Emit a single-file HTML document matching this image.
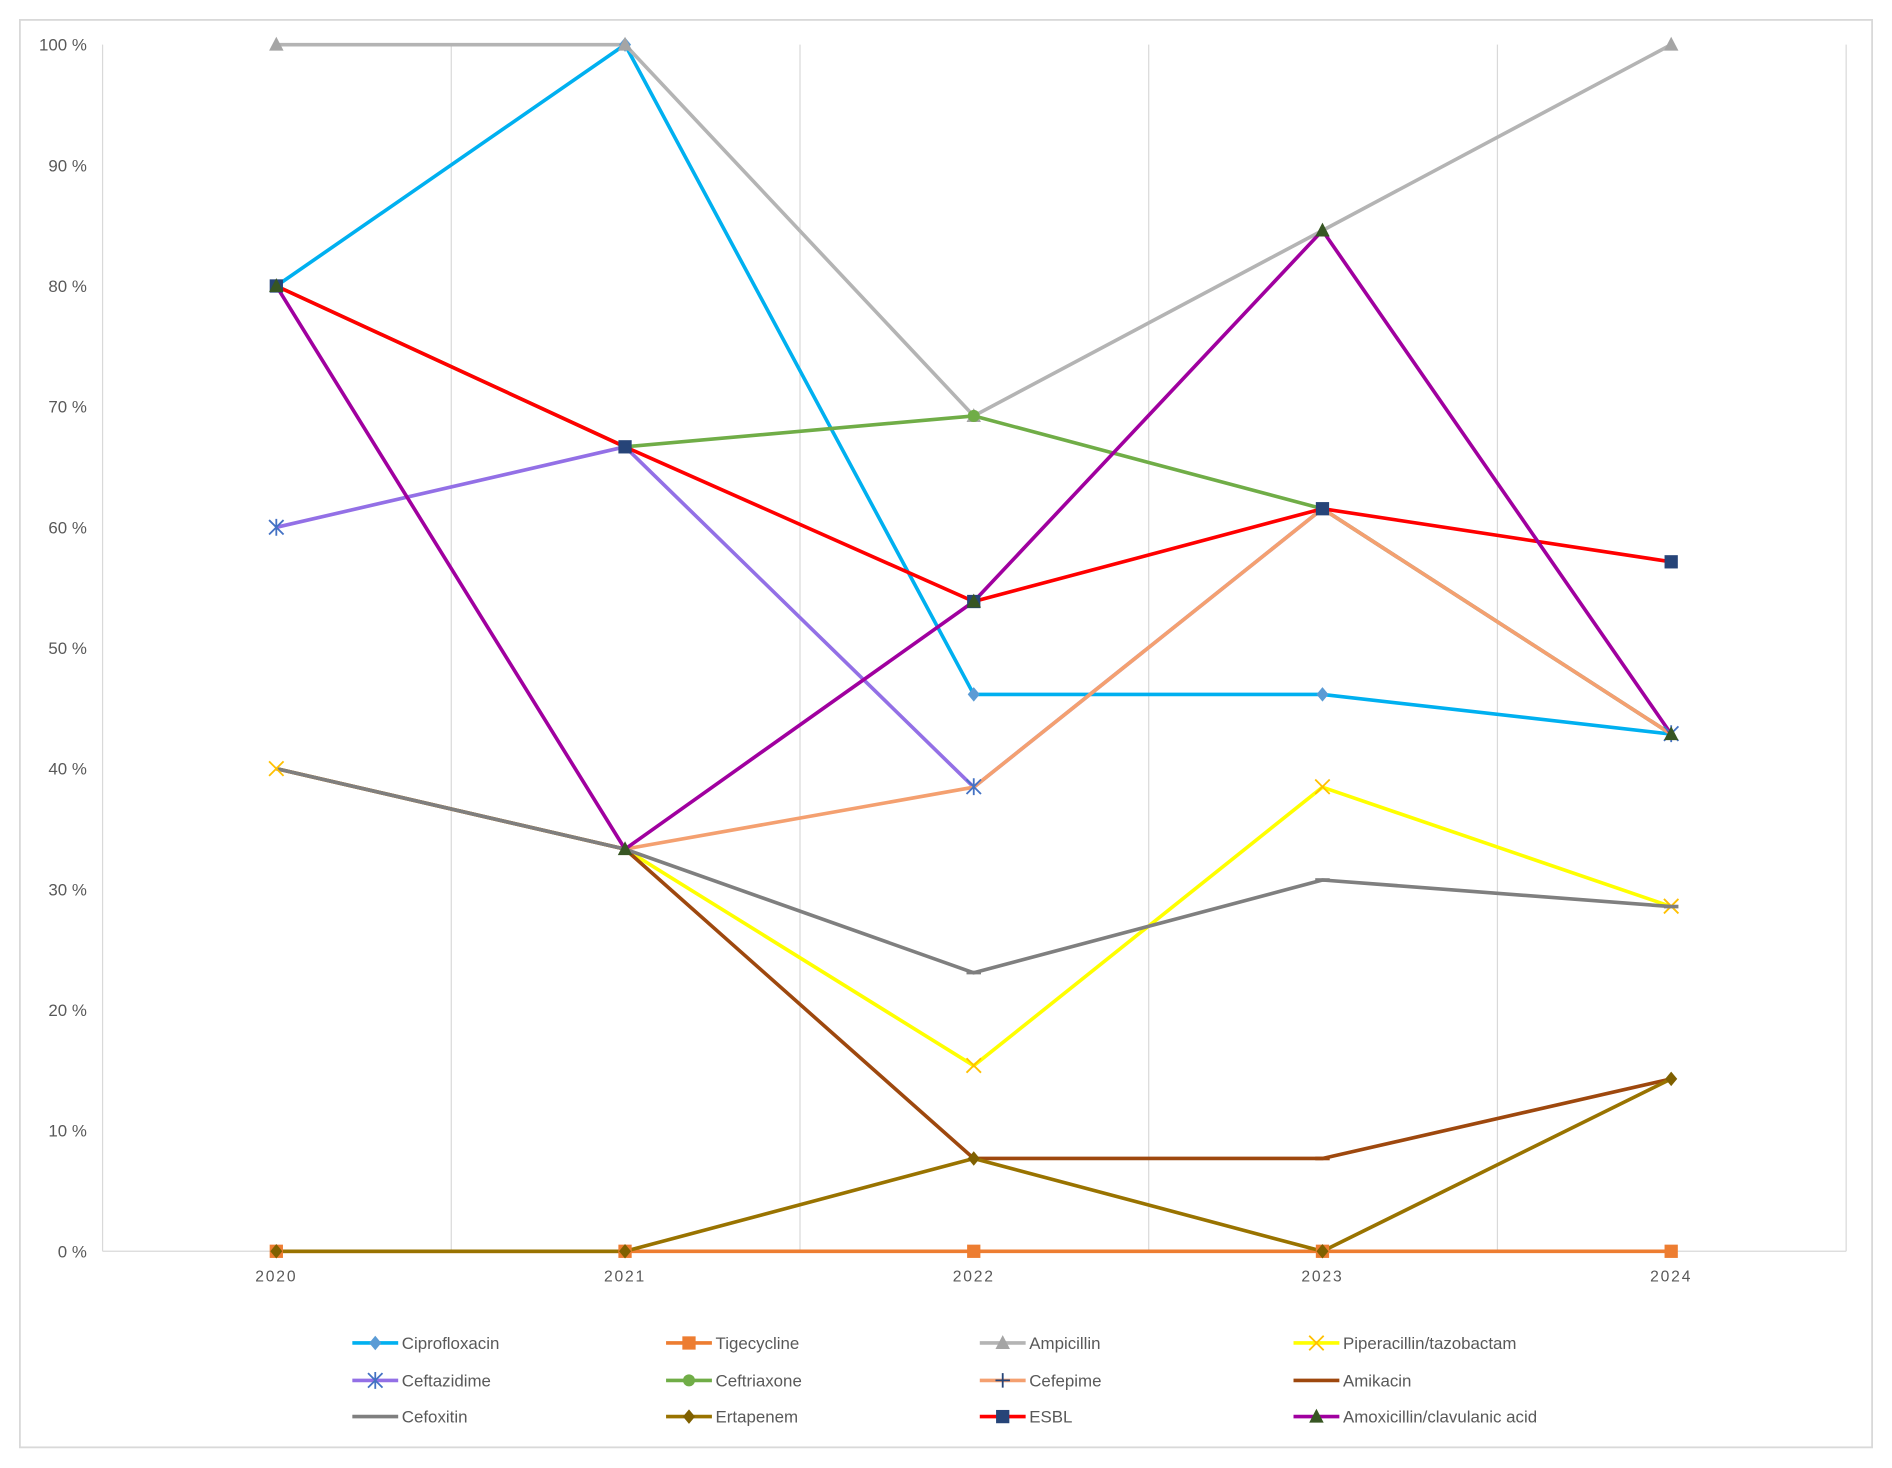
<!DOCTYPE html>
<html><head><meta charset="utf-8"><style>html,body{margin:0;padding:0;background:#fff}svg{display:block}text{font-family:"Liberation Sans",sans-serif;fill:#595959}</style></head><body>
<svg width="1892" height="1468" viewBox="0 0 1568 1216.6" xmlns="http://www.w3.org/2000/svg">
<defs>
<path id="dia" d="M0,-6 L5,0 L0,6 L-5,0Z"/>
<rect id="sq" x="-5.5" y="-5.5" width="11" height="11"/>
<path id="tri" d="M0,-6.5 L6,5 L-6,5Z"/>
<circle id="cir" r="5"/>
</defs>
<rect x="16.5" y="16.5" width="1535" height="1183" fill="#fff" stroke="#d9d9d9" stroke-width="1.5"/>
<g stroke="#d9d9d9" stroke-width="1">
<line x1="85" y1="37" x2="85" y2="1037"/><line x1="374" y1="37" x2="374" y2="1037"/><line x1="663" y1="37" x2="663" y2="1037"/><line x1="952" y1="37" x2="952" y2="1037"/><line x1="1241" y1="37" x2="1241" y2="1037"/><line x1="1530" y1="37" x2="1530" y2="1037"/>
<line x1="85" y1="1037" x2="1530" y2="1037"/>
</g>
<g font-size="14" text-anchor="end">
<text x="72" y="42">100 %</text><text x="72" y="142">90 %</text><text x="72" y="242">80 %</text><text x="72" y="342">70 %</text><text x="72" y="442">60 %</text><text x="72" y="542">50 %</text><text x="72" y="642">40 %</text><text x="72" y="742">30 %</text><text x="72" y="842">20 %</text><text x="72" y="942">10 %</text><text x="72" y="1042">0 %</text>
</g>
<g font-size="13" text-anchor="middle" letter-spacing="1.5">
<text x="229" y="1062">2020</text><text x="518" y="1062">2021</text><text x="807" y="1062">2022</text><text x="1096" y="1062">2023</text><text x="1385" y="1062">2024</text>
</g>
<g fill="none" stroke-width="3" stroke-linejoin="round">
<polyline stroke="#00b0f0" points="229,237 518,37 807,575.5 1096,575.5 1385,608.4"/>
<polyline stroke="#ed7d31" points="229,1037 518,1037 807,1037 1096,1037 1385,1037"/>
<polyline stroke="#b4b4b4" points="229,37 518,37 807,344.7 1096,191 1385,37"/>
<polyline stroke="#ffff00" points="229,637 518,703.7 807,883.2 1096,652.4 1385,751.3"/>
<polyline stroke="#9370e6" points="229,437 518,370.3 807,652.4 1096,421.6 1385,608.4"/>
<polyline stroke="#70ad47" points="229,237 518,370.3 807,344.7 1096,421.6 1385,608.4"/>
<polyline stroke="#f4a070" points="229,637 518,703.7 807,652.4 1096,421.6 1385,608.4"/>
<polyline stroke="#9e480e" points="229,637 518,703.7 807,960.1 1096,960.1 1385,894.1"/>
<polyline stroke="#7f7f7f" points="229,637 518,703.7 807,806.2 1096,729.3 1385,751.3"/>
<polyline stroke="#997300" points="229,1037 518,1037 807,960.1 1096,1037 1385,894.1"/>
<polyline stroke="#ff0000" points="229,237 518,370.3 807,498.5 1096,421.6 1385,465.6"/>
<polyline stroke="#a0009f" points="229,237 518,703.7 807,498.5 1096,191 1385,608.4"/>
</g>
<!-- markers -->
<g fill="#5b9bd5"><use href="#dia" x="807" y="575.5"/><use href="#dia" x="1096" y="575.5"/><use href="#dia" x="518" y="37"/></g>
<g fill="#ed7d31"><use href="#sq" x="229" y="1037"/><use href="#sq" x="518" y="1037"/><use href="#sq" x="807" y="1037"/><use href="#sq" x="1096" y="1037"/><use href="#sq" x="1385" y="1037"/></g>
<g fill="#a5a5a5"><use href="#tri" x="229" y="37"/><use href="#tri" x="518" y="37"/><use href="#tri" x="807" y="344.7"/><use href="#tri" x="1385" y="37"/></g>
<g stroke="#ffc000" stroke-width="1.5"><path d="M223,631l12,12M235,631l-12,12M801,877l12,12M813,877l-12,12M1090,646l12,12M1102,646l-12,12M1379,745l12,12M1391,745l-12,12"/></g>
<g stroke="#4472c4" stroke-width="1.5"><path d="M223,431l12,12M235,431l-12,12M229,430v14M801,646l12,12M813,646l-12,12M807,645v14M1379,602l12,12M1391,602l-12,12M1385,601v14"/></g>
<g fill="#70ad47"><use href="#cir" x="807" y="344.7"/></g>
<g fill="#7f7f7f"><rect x="801" y="804.5" width="12" height="3"/><rect x="1090" y="727.8" width="12" height="3"/><rect x="1379" y="749.8" width="12" height="3"/></g>
<g fill="#9e480e"><rect x="1090" y="958.6" width="12" height="3"/></g>
<g fill="#7f6000"><use href="#dia" x="229" y="1037"/><use href="#dia" x="518" y="1037"/><use href="#dia" x="807" y="960.1"/><use href="#dia" x="1096" y="1037"/><use href="#dia" x="1385" y="894.1"/></g>
<g fill="#264478"><use href="#sq" x="229" y="237"/><use href="#sq" x="518" y="370.3"/><use href="#sq" x="807" y="498.5"/><use href="#sq" x="1096" y="421.6"/><use href="#sq" x="1385" y="465.6"/></g>
<g fill="#375623"><use href="#tri" x="229" y="237"/><use href="#tri" x="518" y="703.7"/><use href="#tri" x="807" y="498.5"/><use href="#tri" x="1096" y="191"/><use href="#tri" x="1385" y="608.4"/></g>
<!-- legend -->
<g stroke-width="3">
<line x1="292" y1="1113" x2="330" y2="1113" stroke="#00b0f0"/>
<line x1="552" y1="1113" x2="590" y2="1113" stroke="#ed7d31"/>
<line x1="812" y1="1113" x2="850" y2="1113" stroke="#b4b4b4"/>
<line x1="1072" y1="1113" x2="1110" y2="1113" stroke="#ffff00"/>
<line x1="292" y1="1144" x2="330" y2="1144" stroke="#9370e6"/>
<line x1="552" y1="1144" x2="590" y2="1144" stroke="#70ad47"/>
<line x1="812" y1="1144" x2="850" y2="1144" stroke="#f4a070"/>
<line x1="1072" y1="1144" x2="1110" y2="1144" stroke="#9e480e"/>
<line x1="292" y1="1174" x2="330" y2="1174" stroke="#7f7f7f"/>
<line x1="552" y1="1174" x2="590" y2="1174" stroke="#997300"/>
<line x1="812" y1="1174" x2="850" y2="1174" stroke="#ff0000"/>
<line x1="1072" y1="1174" x2="1110" y2="1174" stroke="#a0009f"/>
</g>
<use href="#dia" x="311" y="1113" fill="#5b9bd5"/>
<use href="#sq" x="571" y="1113" fill="#ed7d31"/>
<use href="#tri" x="831" y="1113" fill="#a5a5a5"/>
<path d="M1085,1107l12,12M1097,1107l-12,12" stroke="#ffc000" stroke-width="1.5"/>
<path d="M305,1138l12,12M317,1138l-12,12M311,1137v14" stroke="#4472c4" stroke-width="1.5"/>
<use href="#cir" x="571" y="1144" fill="#70ad47"/>
<path d="M831,1138v12M825,1144h12" stroke="#264478" stroke-width="1.5"/>
<use href="#dia" x="571" y="1174" fill="#7f6000"/>
<use href="#sq" x="831" y="1174" fill="#264478"/>
<use href="#tri" x="1091" y="1174" fill="#375623"/>
<g font-size="14">
<text x="333" y="1118">Ciprofloxacin</text><text x="593" y="1118">Tigecycline</text><text x="853" y="1118">Ampicillin</text><text x="1113" y="1118">Piperacillin/tazobactam</text>
<text x="333" y="1149">Ceftazidime</text><text x="593" y="1149">Ceftriaxone</text><text x="853" y="1149">Cefepime</text><text x="1113" y="1149">Amikacin</text>
<text x="333" y="1179">Cefoxitin</text><text x="593" y="1179">Ertapenem</text><text x="853" y="1179">ESBL</text><text x="1113" y="1179">Amoxicillin/clavulanic acid</text>
</g>
</svg>
</body></html>
